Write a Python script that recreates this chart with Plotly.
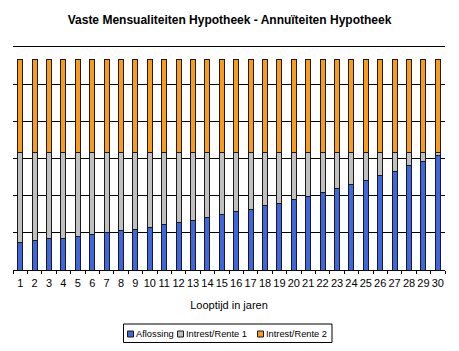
import plotly.graph_objects as go

years = list(range(1, 31))
aflossing = [149, 161, 167, 170, 181, 192, 203, 213, 220, 229,
             246, 258, 269, 285, 299, 314, 326, 349, 360, 380,
             396, 419, 441, 462, 484, 511, 532, 565, 586, 618]
mensualiteit = 632
rente1 = [mensualiteit - a for a in aflossing]
rente2 = [500] * 30

names = ["Aflossing", "Intrest/Rente 1", "Intrest/Rente 2"]
colors = ["#3D66E0", "#C0C0C0", "#F89C1A"]
series = [aflossing, rente1, rente2]

W, H = 459, 351
L, R, T, B = 13, 14, 47, 81
pw, ph = W - L - R, H - T - B


def px(x):
    return (x - L) / pw


def py(y):
    return (H - B - y) / ph


fig = go.Figure()
for n, c, s in zip(names, colors, series):
    fig.add_trace(go.Bar(x=[str(y) for y in years], y=s, name=n, showlegend=False,
                         marker=dict(color=c, line=dict(color="#1a1a1a", width=1))))

# legend drawn as a framed row of swatches + labels
shapes = [dict(type="rect", xref="paper", yref="paper",
               x0=px(123.5), x1=px(332), y0=py(324), y1=py(342.5),
               line=dict(color="black", width=1), fillcolor="white", layer="below")]
annotations = []
swatch_x = [127.5, 177.5, 257.5]
for sx, n, c in zip(swatch_x, names, colors):
    shapes.append(dict(type="rect", xref="paper", yref="paper",
                       x0=px(sx), x1=px(sx + 6), y0=py(331), y1=py(337),
                       line=dict(color="#1a1a1a", width=1), fillcolor=c))
    annotations.append(dict(text=n, xref="paper", yref="paper", x=px(sx + 7.5),
                            y=py(333.5), xanchor="left", yanchor="middle",
                            showarrow=False, borderpad=0,
                            font=dict(size=9.3)))

fig.update_layout(
    barmode="stack",
    bargap=0.64,
    width=W, height=H,
    margin=dict(l=L, r=R, t=T, b=B, autoexpand=False),
    paper_bgcolor="white", plot_bgcolor="white",
    font=dict(family="Liberation Sans, Arial", size=11, color="black"),
    title=dict(text="<b>Vaste Mensualiteiten Hypotheek - Annuïteiten Hypotheek</b>",
               x=0.5, xanchor="center", y=0.945, yanchor="middle",
               font=dict(size=12)),
    showlegend=False,
    shapes=shapes,
    annotations=annotations,
    xaxis=dict(showline=True, linecolor="black", linewidth=1, mirror=True,
               ticks="outside", ticklen=3, tickcolor="black", tickson="boundaries",
               tickangle=0, automargin=False, ticklabelstandoff=3,
               title=dict(text="Looptijd in jaren", standoff=13, font=dict(size=11)),
               tickfont=dict(size=11)),
    yaxis=dict(range=[0, 1200], dtick=200, showticklabels=False,
               showgrid=True, gridcolor="black", gridwidth=1, automargin=False,
               zeroline=False, showline=False),
)

fig.write_html("out.html")
